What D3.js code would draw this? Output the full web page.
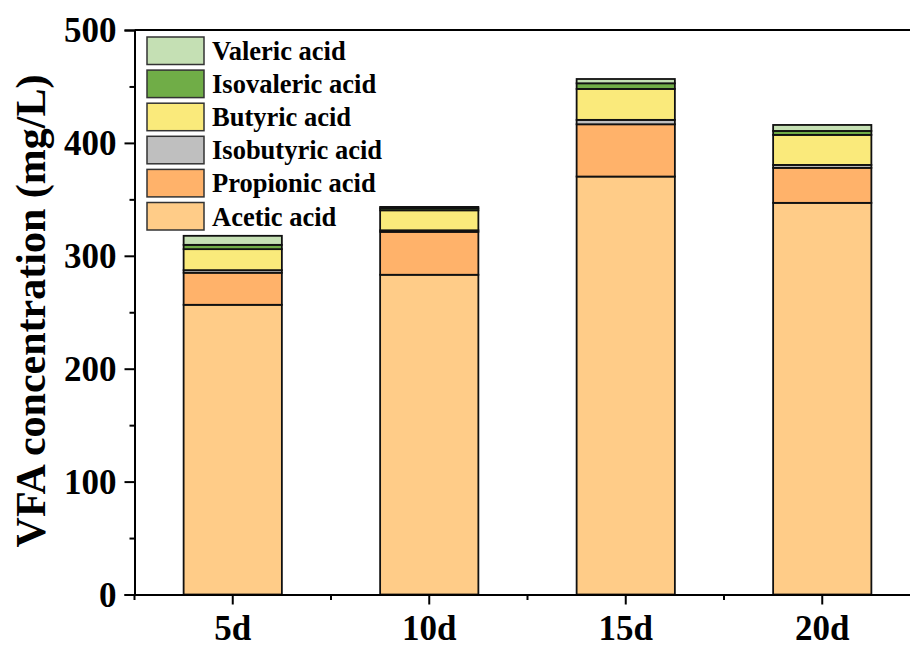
<!DOCTYPE html>
<html>
<head>
<meta charset="utf-8">
<script src="https://cdn.jsdelivr.net/npm/d3@7"></script>
<style>
  html, body { margin: 0; padding: 0; background: #fff; }
  svg { display: block; }
  text { font-family: "Times New Roman", "Liberation Serif", serif; font-weight: bold; fill: #000; }
</style>
</head>
<body>
<script>
// ---- data ----
const categories = ["5d", "10d", "15d", "20d"];
const seriesNames = ["Acetic acid", "Propionic acid", "Isobutyric acid", "Butyric acid", "Isovaleric acid", "Valeric acid"];
const acetic     = [256.6, 283.2, 370.2, 346.9];
const propionic  = [28.4, 38.0, 46.3, 31.0];
const isobutyric = [2.3, 1.4, 3.9, 2.6];
const butyric    = [18.6, 17.7, 27.4, 26.6];
const isovaleric = [3.8, 1.8, 5.0, 3.5];
const valeric    = [8.0, 1.2, 3.8, 5.3];
const seriesColors = ["#FFCC88", "#FFB26A", "#BFBFBF", "#FAEA7B", "#70AD47", "#C5E0B4"];
const yTicks = [0, 100, 200, 300, 400, 500];
const yMinorTicks = [50, 150, 250, 350, 450];

const seriesValues = [acetic, propionic, isobutyric, butyric, isovaleric, valeric];

const W = 910, H = 648;
const svg = d3.select("body").append("svg").attr("width", W).attr("height", H);

const mLeft = 134.5, mTop = 30, mBottom = 594.5, mRight = 920.5;

const x = d3.scaleBand().domain(categories).range([mLeft, mRight]).paddingInner(0.5).paddingOuter(0.25);
const y = d3.scaleLinear().domain([0, 500]).range([mBottom, mTop]);

// table for stacking
const table = categories.map((c, i) => {
  const row = { cat: c };
  seriesNames.forEach((s, j) => row[s] = seriesValues[j][i]);
  return row;
});
const stack = d3.stack().keys(seriesNames)(table);

const g = svg.append("g");
stack.forEach((layer, j) => {
  g.selectAll(null).data(layer).enter().append("rect")
    .attr("x", d => x(d.data.cat))
    .attr("width", x.bandwidth())
    .attr("y", d => y(d[1]))
    .attr("height", d => y(d[0]) - y(d[1]))
    .attr("fill", seriesColors[j])
    .attr("stroke", "#111")
    .attr("stroke-width", 1.8);
});

// y axis
const yAxis = svg.append("g").attr("transform", `translate(${mLeft},0)`)
  .call(d3.axisLeft(y).tickValues(yTicks).tickSize(10).tickPadding(8).tickFormat(d3.format("d")));
yAxis.select(".domain").attr("stroke", "#000").attr("stroke-width", 2);
yAxis.selectAll(".tick line").attr("stroke", "#000").attr("stroke-width", 2);
yAxis.selectAll(".tick text").style("font-size", "35px").attr("dy", "0.34em");
svg.append("g").attr("transform", `translate(${mLeft},0)`)
  .call(d3.axisLeft(y).tickValues(yMinorTicks).tickSize(5).tickFormat(""))
  .call(s => s.select(".domain").remove())
  .selectAll(".tick line").attr("stroke", "#000").attr("stroke-width", 2);

// x axis
const xAxis = svg.append("g").attr("transform", `translate(0,${mBottom})`)
  .call(d3.axisBottom(x).tickSize(10).tickPadding(11).tickSizeOuter(0));
xAxis.select(".domain").attr("stroke", "#000").attr("stroke-width", 2);
xAxis.selectAll(".tick line").attr("stroke", "#000").attr("stroke-width", 2);
xAxis.selectAll(".tick text").style("font-size", "35px").attr("dy", "0.71em");
// minor ticks at band boundaries
const step = x.step();
const minorX = categories.map(c => x(c) + x.bandwidth() / 2 - step / 2).concat([x(categories[categories.length - 1]) + x.bandwidth() / 2 + step / 2]);
svg.append("g").selectAll("line").data(minorX).enter().append("line")
  .attr("x1", d => d).attr("x2", d => d)
  .attr("y1", mBottom).attr("y2", mBottom + 5.5)
  .attr("stroke", "#000").attr("stroke-width", 2);

// top frame line
svg.append("line").attr("x1", mLeft).attr("x2", mRight).attr("y1", mTop).attr("y2", mTop)
  .attr("stroke", "#000").attr("stroke-width", 2);

// y title
svg.append("text")
  .attr("transform", `translate(45,${(72 + 550) / 2}) rotate(-90)`)
  .attr("text-anchor", "middle")
  .style("font-size", "42px")
  .text("VFA concentration (mg/L)");

// legend (top entry = Valeric acid)
const legendOrder = seriesNames.slice().reverse();
const legendColors = seriesColors.slice().reverse();
const lg = svg.append("g");
legendOrder.forEach((name, i) => {
  const yy = 37 + i * 33.1;
  lg.append("rect").attr("x", 147).attr("y", yy).attr("width", 57).attr("height", 27.5)
    .attr("fill", legendColors[i]).attr("stroke", "#333").attr("stroke-width", 1.5);
  lg.append("text").attr("x", 212).attr("y", yy + 23).style("font-size", "26.5px").text(name);
});
</script>
</body>
</html>
